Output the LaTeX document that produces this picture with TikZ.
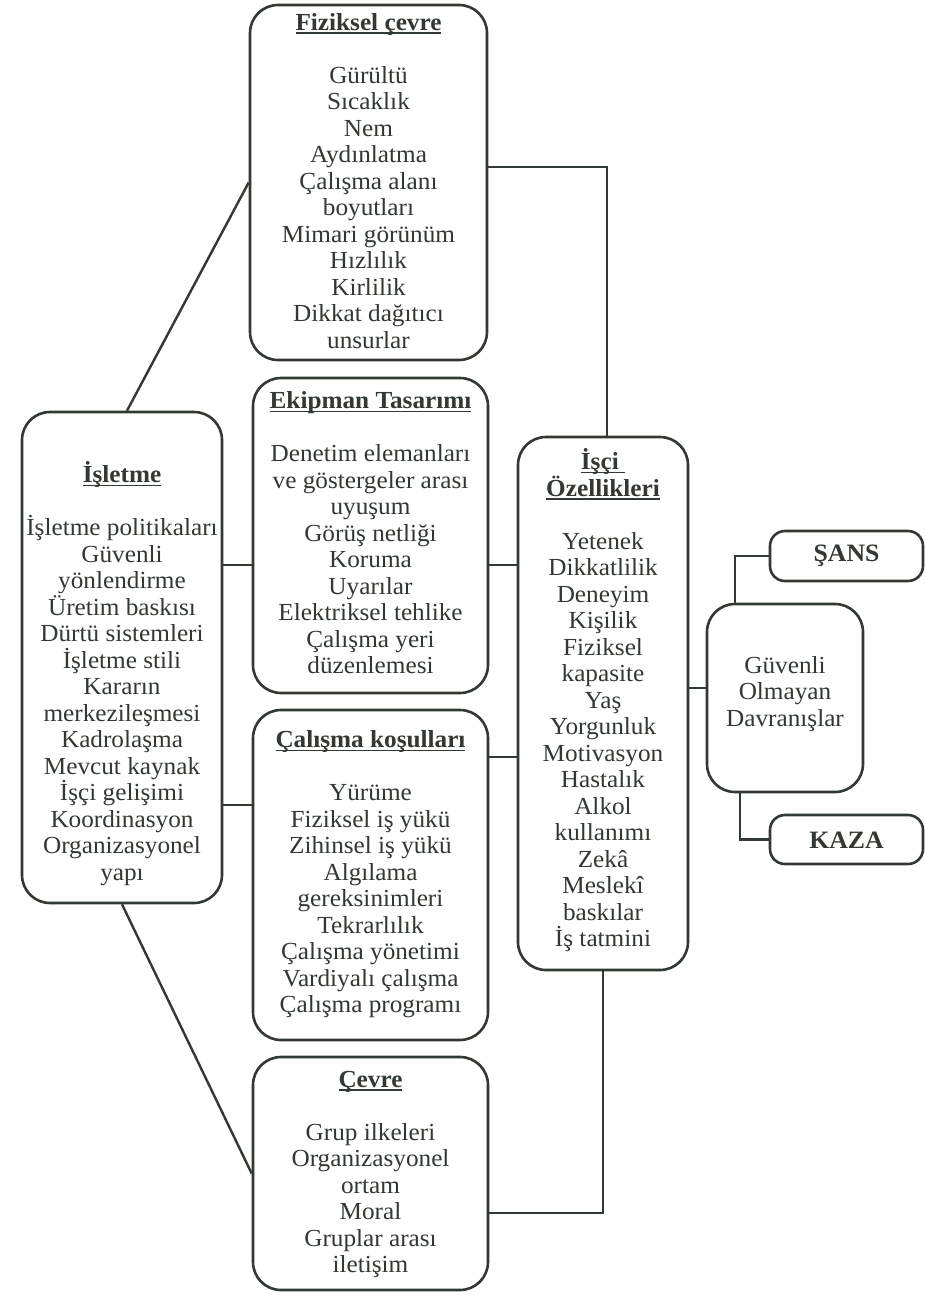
\documentclass[tikz,border=0pt]{standalone}
\usepackage{fontspec}
\setmainfont[FakeStretch=1.03]{Liberation Serif}
\usetikzlibrary{calc}
\definecolor{ink}{RGB}{50,56,50}
\newcommand\boxtitle[1]{{\bfseries\setbox0=\hbox{#1}\rlap{\rule[-3.5pt]{\wd0}{1.5pt}}\box0}}
\begin{document}
\begin{tikzpicture}[x=1pt,y=-1pt,
  box/.style={draw=ink, line width=2.6pt, rounded corners=28pt, inner sep=0pt},
  smallbox/.style={draw=ink, line width=2.6pt, rounded corners=15pt, inner sep=0pt},
  txt/.style={text=ink, align=center, font=\fontsize{24.5}{26.5}\selectfont, inner sep=0pt},
  conn/.style={draw=ink, line width=2.4pt}]
\useasboundingbox[fill=white] (0,0) rectangle (925,1295);

% boxes
\node[box, minimum width=237pt, minimum height=355pt] (fiz) at (368.5,182.5) {};
\node[box, minimum width=235pt, minimum height=315pt] (ekip) at (370.5,535.5) {};
\node[box, minimum width=200pt, minimum height=491pt] (islet) at (122,657.5) {};
\node[box, minimum width=235pt, minimum height=330pt] (calis) at (370.5,875) {};
\node[box, minimum width=235pt, minimum height=233pt] (cevre) at (370.5,1173.5) {};
\node[box, minimum width=170pt, minimum height=533pt] (isci) at (603,703.5) {};
\node[box, minimum width=156pt, minimum height=188pt] (guv) at (785,698) {};
\node[smallbox, minimum width=153pt, minimum height=50pt] (sans) at (846.5,556) {};
\node[smallbox, minimum width=153pt, minimum height=49pt] (kaza) at (846.5,839.5) {};

% texts
\node[txt] (fizt) at (368.5,181) {\boxtitle{Fiziksel çevre}\\[26.5pt]
Gürültü\\Sıcaklık\\Nem\\Aydınlatma\\Çalışma alanı\\boyutları\\Mimari görünüm\\Hızlılık\\Kirlilik\\Dikkat dağıtıcı\\unsurlar};
\node[txt] (ekipt) at (370.5,533) {\boxtitle{Ekipman Tasarımı}\\[26.5pt]
Denetim elemanları\\ve göstergeler arası\\uyuşum\\Görüş netliği\\Koruma\\Uyarılar\\Elektriksel tehlike\\Çalışma yeri\\düzenlemesi};
\node[txt] (islett) at (122,673.5) {\boxtitle{İşletme}\\[26.5pt]
İşletme politikaları\\Güvenli\\yönlendirme\\Üretim baskısı\\Dürtü sistemleri\\İşletme stili\\Kararın\\merkezileşmesi\\Kadrolaşma\\Mevcut kaynak\\İşçi gelişimi\\Koordinasyon\\Organizasyonel\\yapı};
\node[txt] (calist) at (370.5,874.5) {\boxtitle{Çalışma koşulları}\\[26.5pt]
Yürüme\\Fiziksel iş yükü\\Zihinsel iş yükü\\Algılama\\gereksinimleri\\Tekrarlılık\\Çalışma yönetimi\\Vardiyalı çalışma\\Çalışma programı};
\node[txt] (cevret) at (370.5,1174.5) {\boxtitle{Çevre}\\[26.5pt]
Grup ilkeleri\\Organizasyonel\\ortam\\Moral\\Gruplar arası\\iletişim};
\node[txt] (iscit) at (603,700.5) {\boxtitle{İşçi }\\\boxtitle{Özellikleri}\\[26.5pt]
Yetenek\\Dikkatlilik\\Deneyim\\Kişilik\\Fiziksel\\kapasite\\Yaş\\Yorgunluk\\Motivasyon\\Hastalık\\Alkol\\kullanımı\\Zekâ\\Meslekî\\baskılar\\İş tatmini};
\node[txt] (guvt) at (785,694) {Güvenli\\Olmayan\\Davranışlar};
\node[txt, font=\fontsize{25}{26.5}\selectfont\bfseries] (sanst) at (846.5,556) {ŞANS};
\node[txt, font=\fontsize{25}{26.5}\selectfont\bfseries] (kazat) at (846.5,840) {KAZA};

% connectors
\draw[conn] ($(islet.north)+(5,0)$) -- (fiz.west);
\draw[conn] (islet.south) -- (cevre.west);
\draw[conn] (islet.east |- 0,565) -- (ekip.west |- 0,565);
\draw[conn] (islet.east |- 0,805) -- (calis.west |- 0,805);
\draw[conn] (fiz.east |- 0,167) -| ($(isci.north)+(4,0)$);
\draw[conn] (ekip.east |- 0,565) -- (isci.west |- 0,565);
\draw[conn] (calis.east |- 0,757) -- (isci.west |- 0,757);
\draw[conn] (cevre.east |- 0,1213) -| (isci.south);
\draw[conn] (isci.east |- 0,688) -- (guv.west |- 0,688);
\draw[conn] (guv.north -| 735,0) |- (sans.west);
\draw[conn] (guv.south -| 740,0) |- (kaza.west);
\end{tikzpicture}
\end{document}
